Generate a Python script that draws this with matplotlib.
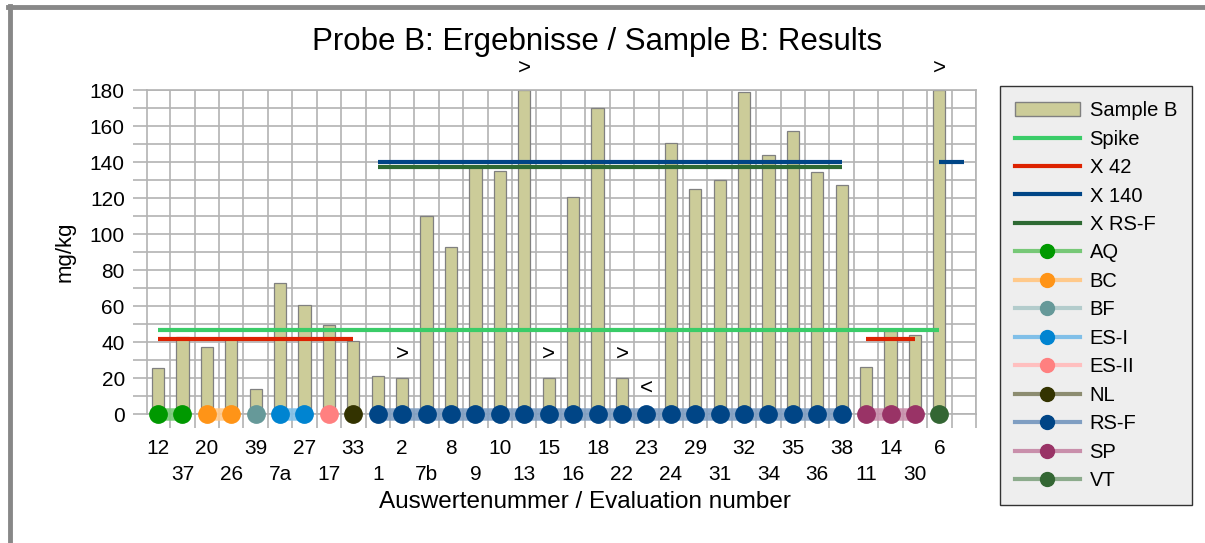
import matplotlib
matplotlib.use("Agg")
import matplotlib.pyplot as plt
from matplotlib.lines import Line2D
from matplotlib.patches import Rectangle

plt.rcParams['font.family'] = ['Liberation Sans', 'DejaVu Sans']

# ---------------- data ----------------
labels = ["12", "37", "20", "26", "39", "7a", "27", "17", "33", "1", "2", "7b", "8", "9",
          "10", "13", "15", "16", "18", "22", "23", "24", "29", "31", "32", "34", "35",
          "36", "38", "11", "14", "30", "6", ""]
sample_b = [25.5, 43, 37, 42.5, 14, 73, 60.5, 49.5, 40.5, 21, 20, 110, 93, 138,
            135, 180, 20, 120.5, 170, 20, 0, 150.5, 125, 130, 179, 144, 157,
            134.5, 127.5, 26, 46, 44, 180, None]

spike_value = 46.5
spike_range = (0, 32)
x42_value = 41.5
x42_ranges = [(0, 8), (29, 31)]
x140_value = 140
x140_ranges = [(9, 28), (32, 33)]
xrsf_value = 137
xrsf_ranges = [(9, 28)]

groups = ["AQ", "BC", "BF", "ES-I", "ES-II", "NL", "RS-F", "SP", "VT"]
group_members = {
    "AQ": [0, 1], "BC": [2, 3], "BF": [4], "ES-I": [5, 6], "ES-II": [7], "NL": [8],
    "RS-F": list(range(9, 29)), "SP": [29, 30, 31], "VT": [32],
}
group_marker_colors = {
    "AQ": "#009900", "BC": "#ff9417", "BF": "#669999", "ES-I": "#0084d1",
    "ES-II": "#ff8080", "NL": "#333300", "RS-F": "#004586", "SP": "#993366", "VT": "#336633",
}
group_line_colors = {
    "AQ": "#77c877", "BC": "#ffc98a", "BF": "#b3cccc", "ES-I": "#80bfe8",
    "ES-II": "#ffbfbf", "NL": "#8c8c70", "RS-F": "#7f9ec2", "SP": "#c98fab", "VT": "#8cab8c",
}

# qualifier annotations: (category index, value position, text)
qualifiers = [(15, 192, ">"), (32, 192, ">"), (10, 33, ">"), (16, 33, ">"),
              (19, 33, ">"), (20, 14.5, "<")]

title = "Probe B: Ergebnisse / Sample B: Results"
xlabel = "Auswertenummer / Evaluation number"
ylabel = "mg/kg"

# ---------------- figure ----------------
W, H = 1205, 543
fig = plt.figure(figsize=(W / 100, H / 100), dpi=100)
ax = fig.add_axes([147 / W, 1 - 414 / H, (976 - 147) / W, (414 - 90) / H])

grid_c = "#b3b3b3"
n = len(labels)
xs = list(range(n))

# bars
bx = [i for i in xs if sample_b[i] is not None]
bv = [sample_b[i] for i in bx]
ax.bar(bx, bv, width=0.5, color="#cccc99", edgecolor="#808080", linewidth=0.9,
       zorder=2, label="Sample B")

# horizontal reference lines
ax.plot(spike_range, [spike_value] * 2, color="#3acc68", lw=3, zorder=3,
        solid_capstyle="butt", label="Spike")
for k, (a, b) in enumerate(x42_ranges):
    ax.plot((a, b), [x42_value] * 2, color="#dd2200", lw=3, zorder=3,
            solid_capstyle="butt", label="X 42" if k == 0 else None)
for k, (a, b) in enumerate(x140_ranges):
    ax.plot((a, b), [x140_value] * 2, color="#004586", lw=3, zorder=3,
            solid_capstyle="butt", label="X 140" if k == 0 else None)
for k, (a, b) in enumerate(xrsf_ranges):
    ax.plot((a, b), [xrsf_value] * 2, color="#2e6a33", lw=3, zorder=3,
            solid_capstyle="butt", label="X RS-F" if k == 0 else None)

# group bands + dots
for g in groups:
    mem = group_members[g]
    if len(mem) > 1:
        ax.plot(mem, [0] * len(mem), color=group_line_colors[g], lw=9, alpha=0.9,
                solid_capstyle="butt", zorder=4, clip_on=False)
    ax.plot(mem, [0] * len(mem), ls="none", marker="o", ms=12.5,
            color=group_marker_colors[g], mec=group_marker_colors[g], zorder=5, clip_on=False)

# qualifiers
for i, yv, t in qualifiers:
    ax.text(i, yv, t, ha="center", va="center", fontsize=16, zorder=6, clip_on=False)

# axes
ax.set_xlim(-0.45, n - 0.5)
ax.set_ylim(0, 180)
ax.set_yticks(range(0, 181, 20))
ax.set_yticks(range(10, 180, 20), minor=True)
ax.set_xticks([i - 0.5 for i in range(n + 1)][1:])
ax.set_xticklabels([])
ax.set_xticks(xs[:-1], minor=True)
ax.set_xticklabels([("" if i % 2 == 0 else "\n") + labels[i] for i in xs[:-1]],
                   minor=True, fontsize=15, linespacing=1.5)
ax.tick_params(axis="x", which="minor", length=0, pad=18)
ax.tick_params(axis="x", which="major", length=10, color=grid_c, width=1.2)
ax.tick_params(axis="y", which="both", length=10, color=grid_c, width=1.2, labelsize=15, pad=6)
ax.grid(True, which="major", axis="x", color=grid_c, lw=1.2, zorder=0)
ax.grid(True, which="both", axis="y", color=grid_c, lw=1.2, zorder=0)
ax.set_axisbelow(True)
for s in ax.spines.values():
    s.set_color(grid_c)
    s.set_linewidth(1.2)

ax.set_xlabel(xlabel, fontsize=17.5)
ax.xaxis.set_label_coords(0.528, -0.272)
ax.xaxis.label.set_va("center")
ax.set_ylabel(ylabel, fontsize=16, labelpad=10)
fig.text(597 / W, 1 - 42 / H, title, ha="center", va="center", fontsize=22.5)

# legend
handles = [Rectangle((0, 0), 1, 1, facecolor="#cccc99", edgecolor="#808080"),
           Line2D([], [], color="#3acc68", lw=3),
           Line2D([], [], color="#dd2200", lw=3),
           Line2D([], [], color="#004586", lw=3),
           Line2D([], [], color="#2e6a33", lw=3)]
names = ["Sample B", "Spike", "X 42", "X 140", "X RS-F"]
for g in groups:
    handles.append(Line2D([], [], color=group_line_colors[g], lw=3, marker="o", ms=10,
                          mfc=group_marker_colors[g], mec=group_marker_colors[g]))
    names.append(g)
leg = fig.legend(handles, names, loc="upper left",
                 bbox_to_anchor=(1000 / W, 1 - 86 / H), fontsize=14.5, frameon=True,
                 fancybox=False, edgecolor="#333333", facecolor="#eeeeee",
                 handlelength=3.2, labelspacing=0.47, borderpad=0.75, handletextpad=0.5,
                 borderaxespad=0)
leg.get_frame().set_linewidth(1.0)
leg.get_frame().set_alpha(1)

# figure frame (top and left)
fig.add_artist(Line2D([10 / W, 10 / W], [0, 1 - 6 / H], color="#888888", lw=3.5))
fig.add_artist(Line2D([8 / W, 1], [1 - 7 / H, 1 - 7 / H], color="#888888", lw=3.5))

fig.savefig("out.png", dpi=100)
